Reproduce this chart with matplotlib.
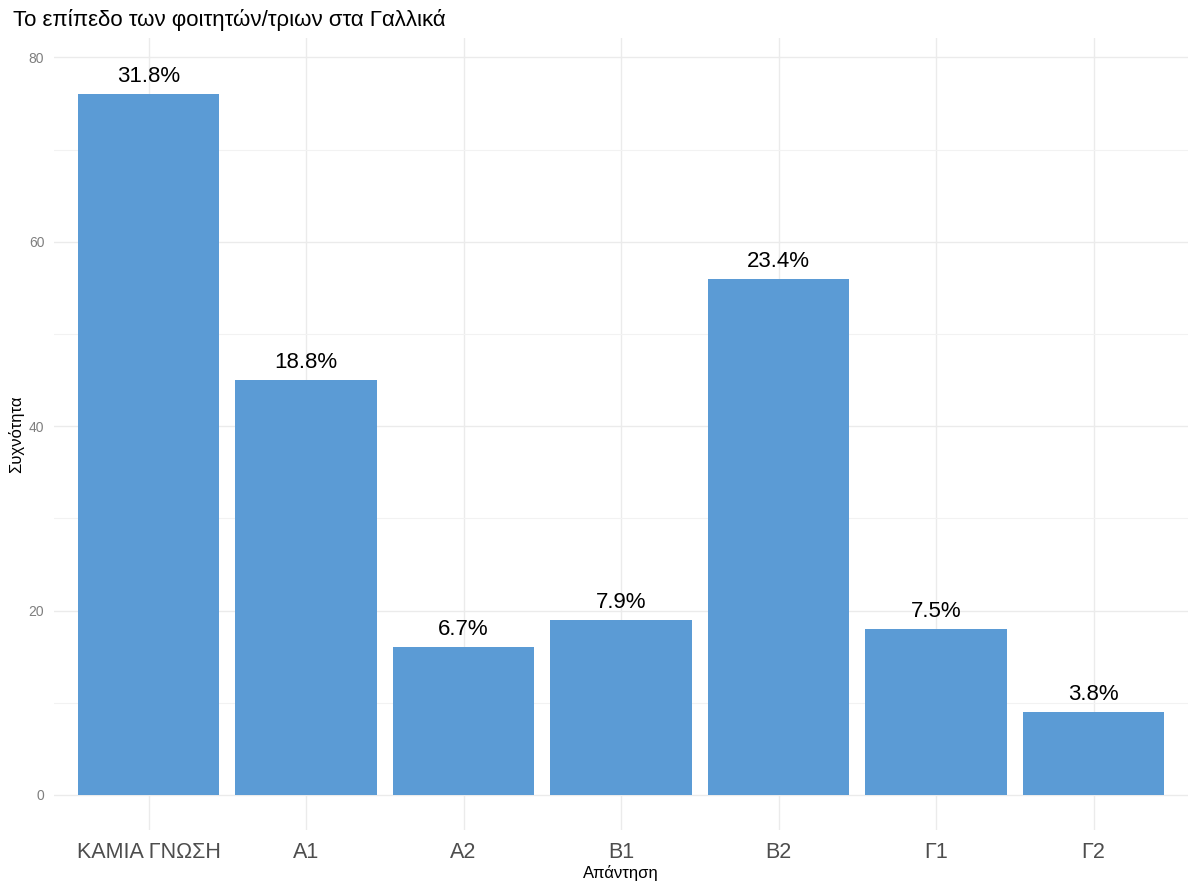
import matplotlib
matplotlib.use("Agg")
import matplotlib.pyplot as plt
import numpy as np

categories = ["ΚΑΜΙΑ ΓΝΩΣΗ", "A1", "A2", "B1", "B2", "Γ1", "Γ2"]
counts = [76, 45, 16, 19, 56, 18, 9]
pct_labels = ["31.8%", "18.8%", "6.7%", "7.9%", "23.4%", "7.5%", "3.8%"]
yticks = [0, 20, 40, 60, 80]
minor_yticks = [10, 30, 50, 70]

plt.rcParams['font.family'] = ['Liberation Sans', 'DejaVu Sans']

fig = plt.figure(figsize=(11.88, 8.81), dpi=100)
ax = fig.add_axes([54/1188, 1 - 830/881, (1188 - 54)/1188, (830 - 38)/881])

x = np.arange(len(categories))
ax.bar(x, counts, width=0.9, color="#5B9BD5", zorder=2)
for xi, c, lab in zip(x, counts, pct_labels):
    ax.annotate(lab, (xi, c), xytext=(0, 5), textcoords="offset points",
                ha="center", va="bottom", fontsize=16, color="black", zorder=3)

ax.set_xlim(-0.6, 6.6)
ax.set_ylim(-3.8, 82.1)
ax.set_xticks(x)
ax.set_xticklabels(categories, fontsize=15.5, color="#4D4D4D")
ax.set_yticks(yticks)
ax.set_yticks(minor_yticks, minor=True)
ax.tick_params(axis="y", labelsize=10, labelcolor="#7F7F7F", length=0, pad=7)
ax.tick_params(axis="y", which="minor", length=0)
ax.tick_params(axis="x", length=0, pad=9)

ax.grid(True, which="major", color="#EBEBEB", linewidth=1.0, zorder=0)
ax.grid(True, which="minor", axis="y", color="#F2F2F2", linewidth=0.8, zorder=0)
ax.set_axisbelow(True)
for s in ax.spines.values():
    s.set_visible(False)

ax.set_xlabel("Απάντηση", fontsize=12, color="black", labelpad=1)
ax.set_ylabel("Συχνότητα", fontsize=12, color="black", labelpad=3)
fig.text(13/1188, 1 - 20/881, "Το επίπεδο των φοιτητών/τριων στα Γαλλικά",
         fontsize=16, ha="left", va="center", color="black")

fig.savefig("out.png", dpi=100)
